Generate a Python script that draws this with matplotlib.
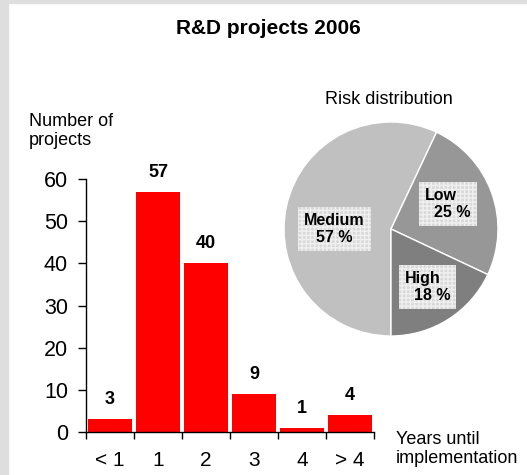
import matplotlib
matplotlib.use("Agg")
import matplotlib.pyplot as plt
from matplotlib.patches import Rectangle

plt.rcParams['font.family'] = ['Liberation Sans', 'DejaVu Sans']

categories = ['< 1', '1', '2', '3', '4', '> 4']
projects = [3, 57, 40, 9, 1, 4]
risk_labels = ['Medium', 'Low', 'High']
risk_share = [57, 25, 18]
risk_colors = ['#c0c0c0', '#979797', '#7f7f7f']

W, H = 527, 475
fig = plt.figure(figsize=(W / 100, H / 100), dpi=100)
fig.patch.set_facecolor('white')
# gray frame strips (left and top)
fig.add_artist(Rectangle((0, 0), 8 / W, 1, transform=fig.transFigure, color='#dedede', zorder=0))
fig.add_artist(Rectangle((0, 1 - 3 / H), 1, 3 / H, transform=fig.transFigure, color='#dedede', zorder=0))

fig.text(268 / W, 1 - 29 / H, 'R&D projects 2006', ha='center', va='center',
         fontsize=15, fontweight='bold')

# bar chart
ax = fig.add_axes([86 / W, 1 - 432 / H, 288 / W, 253 / H])
x = list(range(len(categories)))
bars = ax.bar(x, projects, width=0.93, color='#ff0000', zorder=2)
ax.set_xlim(-0.5, len(categories) - 0.5)
ax.set_ylim(0, 60)
ax.set_yticks(range(0, 61, 10))
ax.set_xticks([i - 0.5 for i in range(len(categories) + 1)])
ax.set_xticklabels([])
ax.set_xticks(x, minor=True)
ax.set_xticklabels(categories, minor=True)
ax.tick_params(axis='x', which='major', direction='out', length=5, width=1, color='black')
ax.tick_params(axis='x', which='minor', length=0, pad=14, labelsize=15)
ax.tick_params(axis='y', direction='out', length=6, width=1, pad=7, labelsize=15.5)
for s in ['top', 'right']:
    ax.spines[s].set_visible(False)
for s in ['left', 'bottom']:
    ax.spines[s].set_linewidth(1)
ax.set_facecolor('none')
for xi, v in zip(x, projects):
    ax.annotate(str(v), (xi, v), xytext=(0, 8), textcoords='offset points',
                ha='center', va='bottom', fontsize=13, fontweight='bold')

fig.text(29 / W, 1 - 131 / H, 'Number of\nprojects', ha='left', va='center',
         fontsize=13, linespacing=1.1)
fig.text(396 / W, 1 - 449 / H, 'Years until\nimplementation', ha='left', va='center',
         fontsize=13, linespacing=1.1)

# pie chart
pax = fig.add_axes([284 / W, 1 - 336 / H, 214 / W, 214 / H])
pax.pie(risk_share, colors=risk_colors, startangle=270, counterclock=False,
        wedgeprops=dict(edgecolor='white', linewidth=1))
pax.set_xlim(-1, 1)
pax.set_ylim(-1, 1)
pax.set_aspect('equal')
pax.axis('off')

fig.text(389 / W, 1 - 100 / H, 'Risk distribution', ha='center', va='center', fontsize=13)

box = dict(boxstyle='square,pad=0.38', facecolor='#d9d9d9', edgecolor='#f0f0f0',
           linewidth=0, hatch='++++')
label_pos = {'Medium': (-0.53, 0.0), 'Low': (0.53, 0.23), 'High': (0.34, -0.54)}
label_txt = {
    'Medium': 'Medium\n57 %',
    'Low': 'Low\n  25 %',
    'High': 'High\n  18 %',
}
for name, share in zip(risk_labels, risk_share):
    px, py = label_pos[name]
    ma = 'center' if name == 'Medium' else 'left'
    pax.text(px, py, label_txt[name], ha='center', va='center', fontsize=11.5,
             fontweight='bold', multialignment=ma, bbox=box, linespacing=1.15)

fig.savefig('out.png', dpi=100)
